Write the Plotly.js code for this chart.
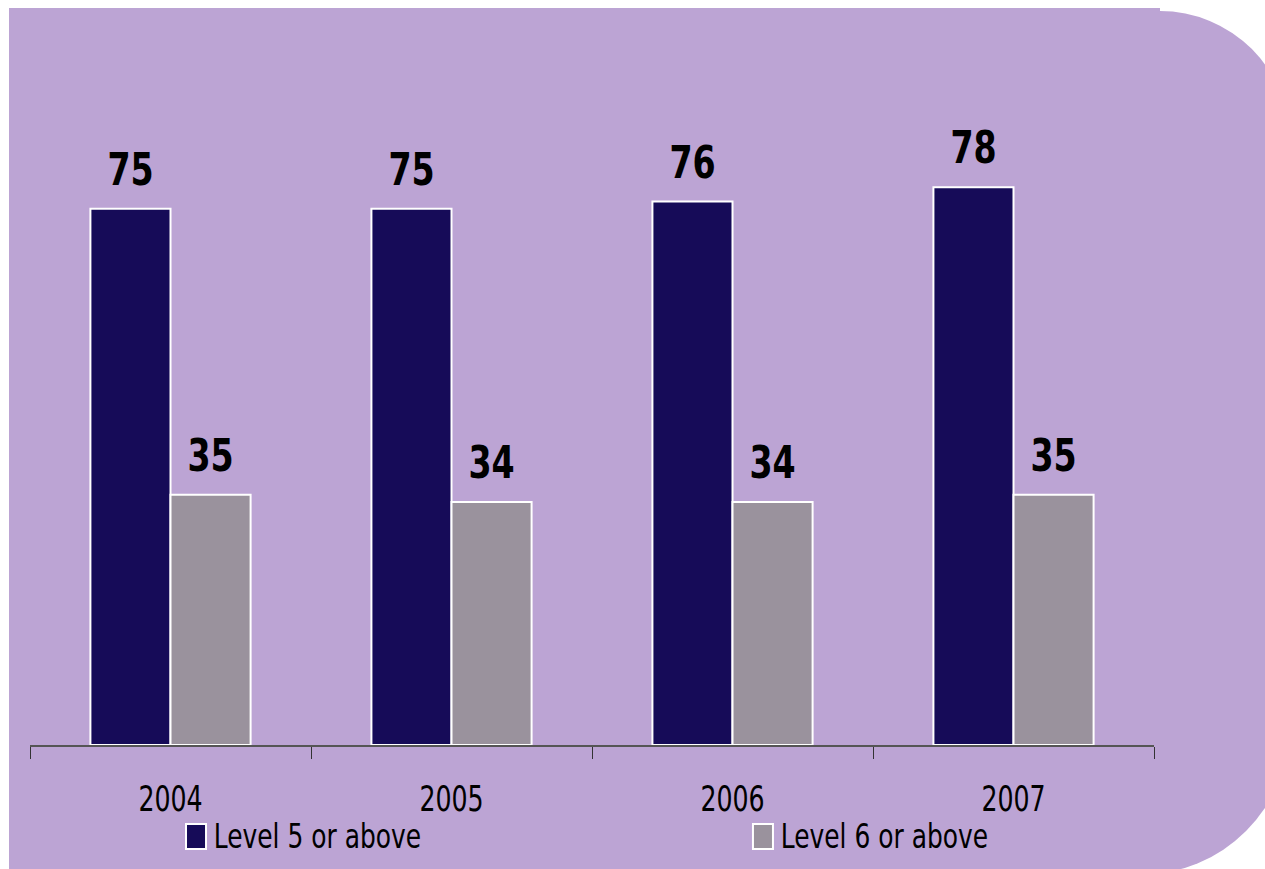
<!DOCTYPE html>
<html>
<head>
<meta charset="utf-8">
<script src="https://cdn.plot.ly/plotly-3.0.1.min.js"></script>
<style>
html,body{margin:0;padding:0;background:#ffffff;overflow:hidden;}
#bg1{position:absolute;left:9px;top:11px;width:1281px;height:864px;background:#BCA4D4;border-radius:0 130px 150px 0;}
#bg2{position:absolute;left:9px;top:8px;width:1151px;height:10px;background:#BCA4D4;}
#chart{position:absolute;left:0;top:0;width:1265px;height:869px;}
#chart .annotation-text{transform-box:fill-box;transform-origin:center center;transform:scaleX(0.84);}
#chart g.xtick{transform-box:fill-box;transform-origin:center center;transform:scaleX(0.78);}
</style>
</head>
<body>
<div id="bg1"></div><div id="bg2"></div>
<div id="chart"></div>
<script>
const years = ['2004', '2005', '2006', '2007'];
const level5 = [75, 75, 76, 78];
const level6 = [35, 34, 34, 35];
const seriesNames = ['Level 5 or above', 'Level 6 or above'];
const seriesColors = ['#160B58', '#9A929D'];

const FONT = '"DejaVu Sans Condensed", "DejaVu Sans", sans-serif';

const traces = [
  {type: 'bar', name: seriesNames[0], x: years, y: level5, showlegend: false,
   marker: {color: seriesColors[0], line: {color: '#ffffff', width: 2}}, hoverinfo: 'none'},
  {type: 'bar', name: seriesNames[1], x: years, y: level6, showlegend: false,
   marker: {color: seriesColors[1], line: {color: '#ffffff', width: 2}}, hoverinfo: 'none'}
];

const annotations = [];
[level5, level6].forEach((vals, s) => {
  vals.forEach((v, i) => {
    annotations.push({
      x: i, y: v, xref: 'x', yref: 'y',
      text: '<b>' + v + '</b>', showarrow: false,
      xshift: s === 0 ? -40 : 40, yshift: 12, yanchor: 'bottom',
      font: {family: FONT, size: 44, color: '#000000'}
    });
  });
});

// Legend (keys + labels) placed in the bottom margin, paper coordinates
const legendKeyX = [[0.1388, 0.1566], [0.6432, 0.6610]];
const legendTextX = [0.256, 0.760];
const shapes = [];
seriesNames.forEach((name, k) => {
  shapes.push({type: 'rect', xref: 'paper', yref: 'paper',
    x0: legendKeyX[k][0], x1: legendKeyX[k][1], y0: -0.1455, y1: -0.1105,
    fillcolor: seriesColors[k], line: {color: '#ffffff', width: 2}});
  annotations.push({xref: 'paper', yref: 'paper', x: legendTextX[k], y: -0.128,
    xanchor: 'center', yanchor: 'middle', text: name, showarrow: false,
    font: {family: FONT, size: 33, color: '#000000'}});
});

const layout = {
  width: 1265, height: 869,
  margin: {l: 30, r: 111, t: 30, b: 124, autoexpand: false},
  paper_bgcolor: 'rgba(0,0,0,0)',
  plot_bgcolor: 'rgba(0,0,0,0)',
  barmode: 'group',
  bargap: 0.43, bargroupgap: 0,
  showlegend: false,
  xaxis: {type: 'category', range: [-0.5, 3.5], autorange: false,
          showline: true, linecolor: '#555555', linewidth: 1.5,
          ticks: 'outside', tickson: 'boundaries', ticklen: 12, tickcolor: '#333333', tickwidth: 1,
          tickfont: {family: FONT, size: 36, color: '#000000'}, tickangle: 0,
          showgrid: false, zeroline: false, ticklabelstandoff: 21},
  yaxis: {range: [0, 100], autorange: false, visible: false, showgrid: false, zeroline: false},
  annotations: annotations,
  shapes: shapes
};

Plotly.newPlot('chart', traces, layout, {displayModeBar: false, staticPlot: true});
</script>
</body>
</html>
